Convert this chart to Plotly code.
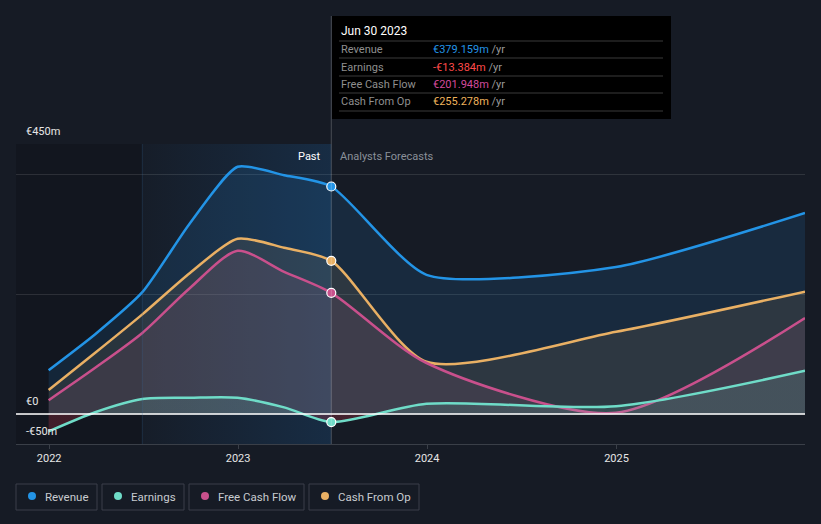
import plotly.graph_objects as go

# ---------------- data (values in € millions) ----------------
dates = ["2021-12-31", "2022-03-31", "2022-06-30", "2022-09-30", "2022-12-31",
         "2023-03-31", "2023-06-30", "2023-12-31", "2024-12-31", "2025-12-31"]
revenue = [73, 133, 203, 318, 412, 398, 379.159, 232, 245, 335]
earnings = [-29, 3, 25, 27, 27, 11, -13.384, 17, 13, 72]
free_cash_flow = [23, 77, 135, 210, 272, 237, 201.948, 85, 2, 160]
cash_from_op = [40, 102, 166, 235, 292, 277, 255.278, 87, 137, 204]

series_names = ["Revenue", "Earnings", "Free Cash Flow", "Cash From Op"]
tooltip_date = "Jun 30 2023"
tooltip_values = ["€379.159m", "-€13.384m", "€201.948m", "€255.278m"]
y_tick_labels = ["€450m", "€0", "-€50m"]
y_tick_values = [450, 0, -50]
x_tick_values = ["2022-01-01", "2023-01-01", "2024-01-01", "2025-01-01"]
x_tick_labels = ["2022", "2023", "2024", "2025"]

past_start = "2022-06-30"
past_end = "2023-06-30"

# ---------------- styling ----------------
BG = "#161b25"
COL = {"Revenue": "#2394e6", "Earnings": "#6fdcc8",
       "Free Cash Flow": "#c9508c", "Cash From Op": "#e9b064"}
TIP_COL = ["#2394e6", "#ff4a4a", "#d24a9c", "#efb35c"]
FILL = {"Revenue": "rgba(35,148,230,0.13)", "Cash From Op": "rgba(233,176,100,0.10)",
        "Free Cash Flow": "rgba(190,110,150,0.12)"}
SMOOTH = {"Revenue": 0.62, "Cash From Op": 0.7, "Free Cash Flow": 0.75, "Earnings": 0.75}
FONT = "Roboto"

W, H = 821, 524
L, R, T, B = 16, 805, 144, 444


def px(x):
    return (x - L) / (R - L)


def py(y):
    return (B - y) / (B - T)


fig = go.Figure()

# past highlight (horizontal gradient)
fig.add_trace(go.Scatter(
    x=[past_start, past_end, past_end, past_start, past_start],
    y=[-50, -50, 450, 450, -50], mode="lines", line=dict(width=0),
    fill="toself", hoverinfo="skip", showlegend=False,
    fillgradient=dict(type="horizontal",
                      colorscale=[[0, "rgba(30,130,220,0.02)"], [1, "rgba(30,130,220,0.17)"]])))

data = {"Revenue": revenue, "Cash From Op": cash_from_op,
        "Free Cash Flow": free_cash_flow, "Earnings": earnings}
for name in ["Revenue", "Cash From Op", "Free Cash Flow", "Earnings"]:
    kw = {}
    if name == "Earnings":
        kw["fillgradient"] = dict(type="vertical", start=-50, stop=100,
                                  colorscale=[[0, "rgba(230,60,80,0.22)"], [0.333, "rgba(230,60,80,0.22)"],
                                              [0.334, "rgba(111,220,200,0.13)"], [1, "rgba(111,220,200,0.13)"]])
    else:
        kw["fillcolor"] = FILL[name]
    fig.add_trace(go.Scatter(
        x=dates, y=data[name], mode="lines", name=name,
        line=dict(color=COL[name], width=2.5, shape="spline", smoothing=SMOOTH[name]),
        fill="tozeroy", showlegend=False, hoverinfo="skip", **kw))

# hover markers at Jun 30 2023
for name in ["Revenue", "Cash From Op", "Free Cash Flow", "Earnings"]:
    i = dates.index(past_end)
    fig.add_trace(go.Scatter(
        x=[dates[i]], y=[data[name][i]], mode="markers", showlegend=False, hoverinfo="skip",
        marker=dict(size=9, color=COL[name], line=dict(color="white", width=1.2))))

shapes = []
annotations = []

# dark region before past highlight
shapes.append(dict(type="rect", xref="x", yref="paper", x0="2021-10-29", x1=past_start,
                   y0=0, y1=1, fillcolor="rgba(0,0,0,0.15)", line_width=0, layer="below"))
# zero line
shapes.append(dict(type="line", xref="paper", yref="y", x0=0, x1=1, y0=0, y1=0,
                   line=dict(color="white", width=1.5)))
# faint line at past start
shapes.append(dict(type="line", xref="x", yref="paper", x0=past_start, x1=past_start, y0=0, y1=1,
                   line=dict(color="rgba(60,110,160,0.25)", width=1)))
# hover vertical line
shapes.append(dict(type="line", xref="x", yref="paper", x0=past_end, x1=past_end, y0=0, y1=py(16),
                   line=dict(color="rgba(255,255,255,0.22)", width=1)))

# tooltip box
shapes.append(dict(type="rect", xref="paper", yref="paper", x0=px(332), x1=px(671),
                   y0=py(119), y1=py(16), fillcolor="black", line_width=0))
annotations.append(dict(xref="paper", yref="paper", x=px(339), y=py(31), text=tooltip_date,
                        showarrow=False, xanchor="left", yanchor="middle",
                        font=dict(family=FONT, size=12, color="white")))
for ly in [41, 58, 76, 93, 111]:
    shapes.append(dict(type="line", xref="paper", yref="paper", x0=px(339), x1=px(663),
                       y0=py(ly), y1=py(ly), line=dict(color="#3a3a3a", width=1)))
row_y = [49.5, 67, 84, 101.5]
for nm, val, c, ry in zip(series_names, tooltip_values, TIP_COL, row_y):
    annotations.append(dict(xref="paper", yref="paper", x=px(339), y=py(ry), text=nm,
                            showarrow=False, xanchor="left", yanchor="middle",
                            font=dict(family=FONT, size=11, color="#8f8f8f")))
    annotations.append(dict(xref="paper", yref="paper", x=px(431), y=py(ry),
                            text=f"<span style='color:{c}'>{val}</span> <span style='color:#9a9a9a'>/yr</span>",
                            showarrow=False, xanchor="left", yanchor="middle",
                            font=dict(family=FONT, size=11, color=c)))

# Past / Analysts Forecasts
annotations.append(dict(xref="x", yref="paper", x=past_end, y=py(156), text="Past", showarrow=False,
                        xanchor="right", yanchor="middle", xshift=-8,
                        font=dict(family=FONT, size=11, color="white")))
annotations.append(dict(xref="x", yref="paper", x=past_end, y=py(156), text="Analysts Forecasts",
                        showarrow=False, xanchor="left", yanchor="middle", xshift=7,
                        font=dict(family=FONT, size=11, color="#8a9099")))

# y labels
for lab, yv in zip(y_tick_labels, y_tick_values):
    annotations.append(dict(xref="paper", yref="y", x=px(24), y=yv, text=lab, showarrow=False,
                            xanchor="left", yanchor="bottom", yshift=4,
                            font=dict(family=FONT, size=11, color="#e6e6e6")))

# legend boxes
legend_boxes = [(16, 97), (102, 184), (189, 304), (309, 419)]
for nm, (x0, x1) in zip(series_names, legend_boxes):
    shapes.append(dict(type="rect", xref="paper", yref="paper", x0=px(x0), x1=px(x1),
                       y0=py(510), y1=py(484), line=dict(color="#3a3f4a", width=1),
                       fillcolor="rgba(0,0,0,0)"))
    shapes.append(dict(type="circle", xref="paper", yref="paper", x0=px(x0 + 12), x1=px(x0 + 20),
                       y0=py(500), y1=py(492), fillcolor=COL[nm], line_width=0))
    annotations.append(dict(xref="paper", yref="paper", x=px(x0 + 27), y=py(496.5), text=nm,
                            showarrow=False, xanchor="left", yanchor="middle",
                            font=dict(family=FONT, size=11.5, color="#c8cbd0")))

fig.update_layout(
    width=W, height=H, margin=dict(l=L, r=W - R, t=T, b=H - B),
    paper_bgcolor=BG, plot_bgcolor=BG, showlegend=False,
    shapes=shapes, annotations=annotations,
    xaxis=dict(range=["2021-10-29", "2025-12-31"], tickvals=x_tick_values, ticktext=x_tick_labels,
               showgrid=False, zeroline=False, showline=True, linecolor="#3a3f48", linewidth=1,
               ticks="outside", ticklen=4, tickcolor="#3a3f48",
               tickfont=dict(family=FONT, size=11, color="#e6e6e6"), fixedrange=True),
    yaxis=dict(range=[-50, 450], tickvals=[-50, 0, 200, 400, 450], showticklabels=False,
               showgrid=True, gridcolor="rgba(255,255,255,0.11)", gridwidth=1, zeroline=False,
               fixedrange=True),
)

fig.write_html("out.html")
